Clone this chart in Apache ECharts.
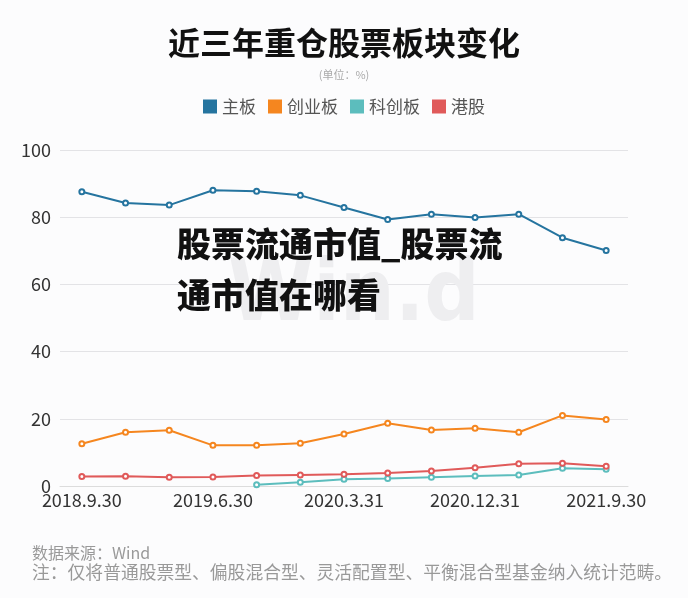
<!DOCTYPE html>
<html>
<head>
<meta charset="utf-8">
<script src="https://cdn.jsdelivr.net/npm/echarts@6/dist/echarts.min.js"></script>
<style>
html,body{margin:0;padding:0;background:#fcfcfd;}
#c{width:688px;height:598px;}
</style>
</head>
<body>
<div id="c"></div>
<script>
var categories = ['2018.9.30','2018.12.31','2019.3.31','2019.6.30','2019.9.30','2019.12.31','2020.3.31','2020.6.30','2020.9.30','2020.12.31','2021.3.31','2021.6.30','2021.9.30'];
var mainBoard = [87.6, 84.2, 83.6, 88.0, 87.7, 86.5, 82.9, 79.3, 80.9, 79.9, 80.9, 73.9, 70.1];
var chiNext = [12.6, 16.0, 16.6, 12.1, 12.1, 12.7, 15.5, 18.7, 16.7, 17.2, 16.0, 21.0, 19.8];
var star = [null, null, null, null, 0.4, 1.1, 2.0, 2.2, 2.6, 3.0, 3.3, 5.3, 5.0];
var hk = [2.8, 2.9, 2.6, 2.7, 3.1, 3.3, 3.5, 3.9, 4.5, 5.4, 6.6, 6.8, 5.9];
var seriesNames = ['主板', '创业板', '科创板', '港股'];
var colors = ['#25749f', '#f5861f', '#5cbdbd', '#e05a5a'];
var yTicks = {min: 0, max: 100, interval: 20};

var font = '"Noto Sans CJK SC", "Noto Sans", sans-serif';
var chart = echarts.init(document.getElementById('c'));
var dataSets = [mainBoard, chiNext, star, hk];
var series = seriesNames.map(function (n, i) {
  return {
    name: n, type: 'line', data: dataSets[i],
    symbol: 'emptyCircle', symbolSize: 5, showSymbol: true,
    lineStyle: {width: 2, color: colors[i]},
    itemStyle: {color: colors[i], borderWidth: 1.2},
    z: 3
  };
});
chart.setOption({
  backgroundColor: '#fcfcfd',
  color: colors,
  animation: false,
  title: [{
    text: '近三年重仓股票板块变化', left: 'center', top: 22,
    textStyle: {fontFamily: font, fontSize: 32, fontWeight: 'bold', color: '#111'}
  }, {
    text: '(单位：%)', left: 'center', top: 64,
    textStyle: {fontFamily: font, fontSize: 11, fontWeight: 'normal', color: '#aaa'}
  }],
  legend: {
    top: 93, left: 'center', itemWidth: 14, itemHeight: 14, itemGap: 12,
    icon: 'rect',
    textStyle: {fontFamily: font, fontSize: 17, color: '#555'},
    data: seriesNames
  },
  grid: {left: 60, right: 60, top: 150, bottom: 112},
  xAxis: {
    type: 'category', data: categories, boundaryGap: true,
    axisLine: {lineStyle: {color: '#dcdcdc'}},
    axisTick: {show: false},
    axisLabel: {interval: 2, color: '#333', fontSize: 18, fontFamily: font, margin: 5}
  },
  yAxis: {
    type: 'value', min: yTicks.min, max: yTicks.max, interval: yTicks.interval,
    axisLine: {show: false}, axisTick: {show: false},
    splitLine: {lineStyle: {color: '#e3e3e6'}},
    axisLabel: {color: '#333', fontSize: 18, fontFamily: font, margin: 9}
  },
  graphic: [{
    type: 'text', left: 228, top: 255, z: 1,
    style: {text: 'Win.d', fontSize: 86, fontWeight: 'bold', fontFamily: '"Liberation Sans Narrow", "DejaVu Sans Condensed", sans-serif', fill: '#eeeef0'}
  }, {
    type: 'text', left: 177, top: 219, z: 10,
    style: {text: '股票流通市值_股票流\n通市值在哪看', fontSize: 34, lineHeight: 51, fontWeight: 900, fontFamily: font, fill: '#111'}
  }, {
    type: 'text', left: 32, top: 545, z: 10,
    style: {text: '数据来源：Wind', fontSize: 16, fontFamily: font, fill: '#999'}
  }, {
    type: 'text', left: 32, top: 563, z: 10,
    style: {text: '注：仅将普通股票型、偏股混合型、灵活配置型、平衡混合型基金纳入统计范畴。', fontSize: 17.8, fontFamily: font, fill: '#999'}
  }],
  series: series
});
</script>
</body>
</html>
